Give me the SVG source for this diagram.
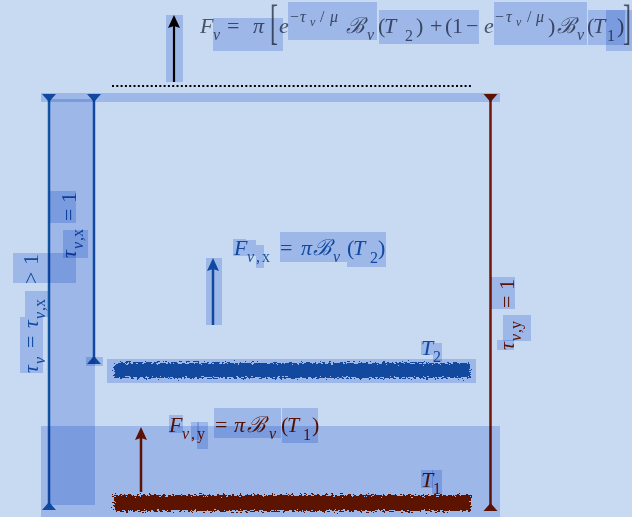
<svg xmlns="http://www.w3.org/2000/svg" width="632" height="517" viewBox="0 0 632 517">
<defs>
<style>
.t{font-family:"Liberation Serif","DejaVu Serif",serif;font-size:22px}
.i{font-style:italic}
.s{font-size:16px}
.ss{font-size:12px}
.g{fill:#4a5468}
.b{fill:#1456a6}
.r{fill:#741404}
.hl{fill:#c8d7f5;mix-blend-mode:multiply}
</style>
<filter id="rough" x="-5%" y="-80%" width="110%" height="260%">
<feTurbulence type="fractalNoise" baseFrequency="0.35 0.8" numOctaves="2" seed="4" result="n"/>
<feDisplacementMap in="SourceGraphic" in2="n" scale="9" xChannelSelector="R" yChannelSelector="G"/>
</filter>
</defs>
<rect x="0" y="0" width="632" height="517" fill="#c8daf2"/>

<g id="layer-bottom">
<rect x="114" y="363" width="356" height="15" fill="#1456a6" filter="url(#rough)"/>
<rect x="114" y="495" width="357" height="16" fill="#741404" filter="url(#rough)"/>
</g>

<g id="connectors">
<line x1="174" y1="82" x2="174" y2="26" stroke="#000" stroke-width="2.2"/>
<polygon points="174,15 168,28 174,26 180,28" fill="#000"/>
<line x1="112" y1="86" x2="472" y2="86" stroke="#000" stroke-width="2" stroke-dasharray="2,2.3"/>
<line x1="49" y1="96" x2="49" y2="508" stroke="#1456a6" stroke-width="2.5"/>
<polygon points="42,94 56,94 49,102" fill="#1456a6"/>
<polygon points="42,510 56,510 49,502" fill="#1456a6"/>
<line x1="94" y1="96" x2="94" y2="362" stroke="#1456a6" stroke-width="2.5"/>
<polygon points="87,94 101,94 94,102" fill="#1456a6"/>
<polygon points="87,364 101,364 94,356" fill="#1456a6"/>
<line x1="490.5" y1="96" x2="490.5" y2="508" stroke="#741404" stroke-width="2.5"/>
<polygon points="483.5,94 497.5,94 490.5,102" fill="#741404"/>
<polygon points="483.5,511 497.5,511 490.5,503" fill="#741404"/>
<line x1="213" y1="325" x2="213" y2="268" stroke="#1456a6" stroke-width="2.5"/>
<polygon points="213,258 207,271 213,269 219,271" fill="#1456a6"/>
<line x1="141" y1="492" x2="141" y2="437" stroke="#741404" stroke-width="2.5"/>
<polygon points="141,427 135,440 141,438 147,440" fill="#741404"/>
</g>

<g id="top-flux" class="t g">
<text y="33"><tspan x="200" class="i">F</tspan><tspan x="213" y="40" class="i s">ν</tspan><tspan x="227" y="33">=</tspan><tspan x="253" class="i">π</tspan><tspan x="279" class="i">e</tspan><tspan x="290" y="22" class="s">−</tspan><tspan x="300" class="i s">τ</tspan><tspan x="310" y="26" class="i ss">ν</tspan><tspan x="320" y="22" class="s">/</tspan><tspan x="330" class="i s">μ</tspan><tspan x="346" y="33" class="i">ℬ</tspan><tspan x="367" y="40" class="i s">ν</tspan><tspan x="378" y="33">(</tspan><tspan x="384" class="i">T</tspan><tspan x="405" y="41" class="s">2</tspan><tspan x="416" y="33">)</tspan><tspan x="430">+</tspan><tspan x="445">(</tspan><tspan x="452">1</tspan><tspan x="466">−</tspan><tspan x="484" class="i">e</tspan><tspan x="495" y="22" class="s">−</tspan><tspan x="506" class="i s">τ</tspan><tspan x="516" y="26" class="i ss">ν</tspan><tspan x="527" y="22" class="s">/</tspan><tspan x="536" class="i s">μ</tspan><tspan x="548" y="33">)</tspan><tspan x="557" class="i">ℬ</tspan><tspan x="577" y="40" class="i s">ν</tspan><tspan x="587" y="33">(</tspan><tspan x="593" class="i">T</tspan><tspan x="607" y="41" class="s">1</tspan><tspan x="617" y="33">)</tspan></text>
<text transform="translate(270,38) scale(0.5,1)" style="font-size:48px">[</text>
<text transform="translate(623,38) scale(0.5,1)" style="font-size:48px">]</text>
</g>

<g id="flux-x" class="t b">
<text y="255"><tspan x="234" class="i">F</tspan><tspan x="247" y="262" class="i s">ν</tspan><tspan x="256" class="s">,</tspan><tspan x="262" class="s">x</tspan><tspan x="280" y="255">=</tspan><tspan x="301" class="i">π</tspan><tspan x="313" class="i">ℬ</tspan><tspan x="333" y="262" class="i s">ν</tspan><tspan x="347" y="255">(</tspan><tspan x="353" class="i">T</tspan><tspan x="370" y="263" class="s">2</tspan><tspan x="378" y="255">)</tspan></text>
</g>

<g id="flux-y" class="t r">
<text y="432"><tspan x="169" class="i">F</tspan><tspan x="182" y="439" class="i s">ν</tspan><tspan x="191" class="s">,</tspan><tspan x="197" class="s">y</tspan><tspan x="215" y="432">=</tspan><tspan x="234" class="i">π</tspan><tspan x="247" class="i">ℬ</tspan><tspan x="269" y="439" class="i s">ν</tspan><tspan x="281" y="432">(</tspan><tspan x="287" class="i">T</tspan><tspan x="303" y="440" class="s">1</tspan><tspan x="312" y="432">)</tspan></text>
</g>

<g id="T2" class="t b"><text y="355"><tspan x="421" class="i">T</tspan><tspan x="433" y="362" class="s">2</tspan></text></g>
<g id="T1" class="t r"><text y="487"><tspan x="421" class="i">T</tspan><tspan x="433" y="494" class="s">1</tspan></text></g>

<g id="tau-x" class="t b"><text transform="translate(76,258) rotate(-90)"><tspan x="0" class="i">τ</tspan><tspan x="9" y="7" class="i s">ν</tspan><tspan x="17" class="s">,</tspan><tspan x="21" class="s">x</tspan><tspan x="37" y="0">=</tspan><tspan x="55">1</tspan></text></g>

<g id="tau-total" class="t b"><text transform="translate(38,373) rotate(-90)"><tspan x="0" class="i">τ</tspan><tspan x="9" y="7" class="i s">ν</tspan><tspan x="25" y="0">=</tspan><tspan x="45" class="i">τ</tspan><tspan x="54" y="7" class="i s">ν</tspan><tspan x="62" class="s">,</tspan><tspan x="66" class="s">x</tspan><tspan x="89" y="0">&gt;</tspan><tspan x="108">1</tspan></text></g>

<g id="tau-y" class="t r"><text transform="translate(514,350) rotate(-90)"><tspan x="0" class="i">τ</tspan><tspan x="9" y="7" class="i s">ν</tspan><tspan x="17" class="s">,</tspan><tspan x="21" class="s">y</tspan><tspan x="42" y="0">=</tspan><tspan x="60">1</tspan></text></g>

<g id="highlights">
<rect class="hl" x="166" y="15" width="17" height="67"/>
<rect class="hl" x="213" y="18" width="70" height="33"/>
<rect class="hl" x="288" y="2" width="89" height="38"/>
<rect class="hl" x="379" y="10" width="100" height="34"/>
<rect class="hl" x="494" y="2" width="93" height="43"/>
<rect class="hl" x="588" y="10" width="37" height="35"/>
<rect class="hl" x="606" y="10" width="26" height="41"/>
<rect class="hl" x="41" y="93" width="459" height="9"/>
<rect class="hl" x="49" y="99" width="46" height="406"/>
<rect class="hl" x="41" y="426" width="459" height="91"/>
<rect class="hl" x="50" y="191" width="26" height="32"/>
<rect class="hl" x="63" y="230" width="25" height="28"/>
<rect class="hl" x="13" y="253" width="63" height="30"/>
<rect class="hl" x="25" y="291" width="23" height="26"/>
<rect class="hl" x="20" y="317" width="23" height="56"/>
<rect class="hl" x="491" y="277" width="24" height="32"/>
<rect class="hl" x="503" y="315" width="28" height="26"/>
<rect class="hl" x="497" y="340" width="17" height="10"/>
<rect class="hl" x="206" y="258" width="16" height="67"/>
<rect class="hl" x="233" y="239" width="13" height="17"/>
<rect class="hl" x="246" y="240" width="10" height="16"/>
<rect class="hl" x="256" y="245" width="8" height="23"/>
<rect class="hl" x="280" y="232" width="67" height="30"/>
<rect class="hl" x="347" y="232" width="39" height="35"/>
<rect class="hl" x="107" y="359" width="369" height="24"/>
<rect class="hl" x="86" y="357" width="17" height="9"/>
<rect class="hl" x="421" y="341" width="12" height="14"/>
<rect class="hl" x="433" y="343" width="9" height="19"/>
<rect class="hl" x="169" y="415" width="14" height="18"/>
<rect class="hl" x="191" y="422" width="8" height="18"/>
<rect class="hl" x="197" y="422" width="11" height="27"/>
<rect class="hl" x="214" y="408" width="67" height="30"/>
<rect class="hl" x="282" y="408" width="36" height="35"/>
<rect class="hl" x="421" y="470" width="12" height="18"/>
<rect class="hl" x="432" y="470" width="10" height="24"/>
</g>
</svg>
